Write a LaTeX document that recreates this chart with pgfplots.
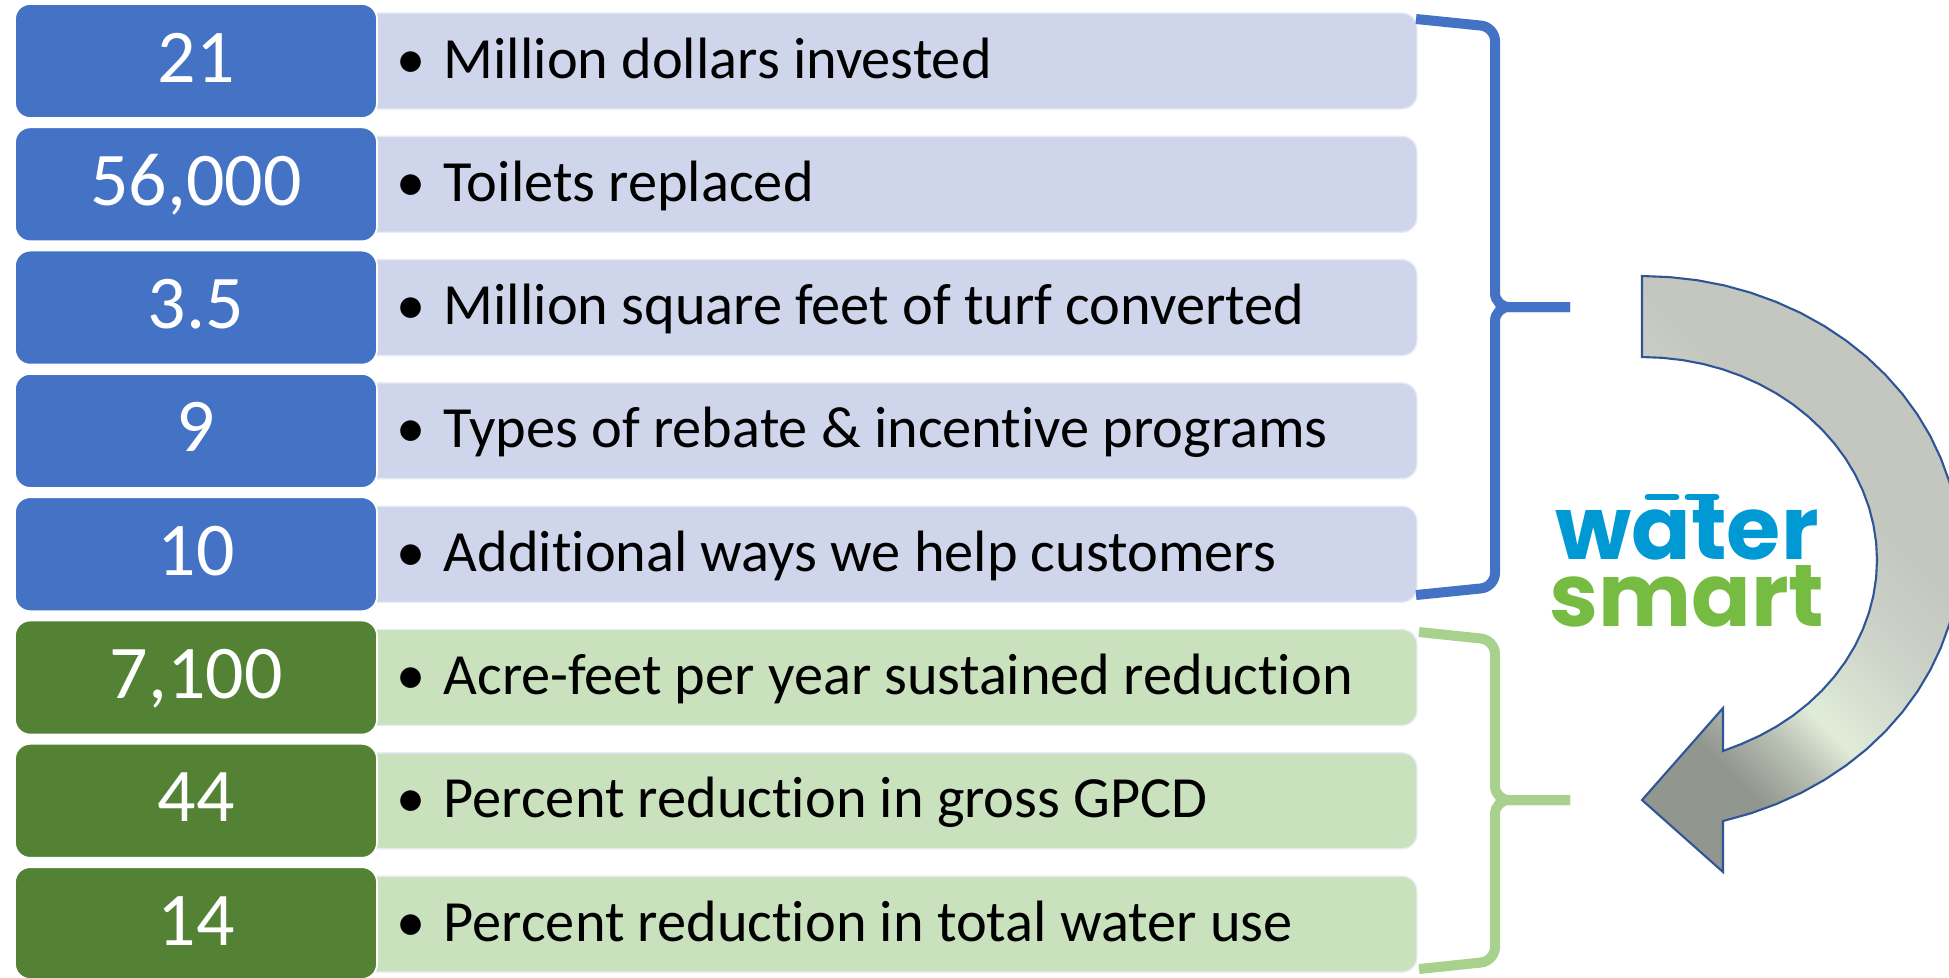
\documentclass[border=0pt]{standalone}
\usepackage{pgfplots}
\pgfplotsset{compat=1.18}
\usepackage{fontspec}
\setmainfont{Carlito}[Ligatures={NoCommon}, RawFeature={-liga;-clig;-dlig}]
\newfontfamily\logofont{Poppins}
\definecolor{dkblue}{HTML}{4472C4}
\definecolor{ltblue}{HTML}{CFD5EA}
\definecolor{dkgreen}{HTML}{548235}
\definecolor{ltgreen}{HTML}{C9E1BC}
\definecolor{brgreen}{HTML}{A9D18E}
\definecolor{arrline}{HTML}{2F5597}
\definecolor{logoblue}{HTML}{0099D4}
\definecolor{logogreen}{HTML}{76BC43}
\definecolor{adark}{HTML}{91968F}
\definecolor{amid}{HTML}{B7BEB1}
\definecolor{alight}{HTML}{E0ECD8}
\definecolor{agray}{HTML}{C4C7C0}
\definecolor{agray2}{HTML}{CDD4C9}
\pgfdeclareverticalshading{arrowshade}{100bp}{color(0bp)=(adark); color(29bp)=(adark); color(35bp)=(amid); color(40bp)=(alight); color(50bp)=(agray2); color(60bp)=(agray); color(100bp)=(agray)}
\newcommand{\bodyfont}{\fontsize{16.6}{19}\selectfont}
\newcommand{\numfont}{\fontsize{21.6}{26}\selectfont}
\begin{document}
\begin{tikzpicture}
\begin{axis}[
  scale only axis, width=19.49cm, height=9.77cm,
  xmin=0, xmax=1949, ymin=0, ymax=977, y dir=reverse,
  axis line style={draw=none}, xtick=\empty, ytick=\empty,
  clip=true,
]
% light boxes (blue group)
\addplot[draw=white!55!ltblue, line width=0.4pt, fill=ltblue, rounded corners=4.3pt] coordinates {(900,13) (1417,13) (1417,109) (360,109) (360,13)} -- cycle;
\addplot[draw=white!55!ltblue, line width=0.4pt, fill=ltblue, rounded corners=4.3pt] coordinates {(900,136.3) (1417,136.3) (1417,232.3) (360,232.3) (360,136.3)} -- cycle;
\addplot[draw=white!55!ltblue, line width=0.4pt, fill=ltblue, rounded corners=4.3pt] coordinates {(900,259.6) (1417,259.6) (1417,355.6) (360,355.6) (360,259.6)} -- cycle;
\addplot[draw=white!55!ltblue, line width=0.4pt, fill=ltblue, rounded corners=4.3pt] coordinates {(900,382.9) (1417,382.9) (1417,478.9) (360,478.9) (360,382.9)} -- cycle;
\addplot[draw=white!55!ltblue, line width=0.4pt, fill=ltblue, rounded corners=4.3pt] coordinates {(900,506.2) (1417,506.2) (1417,602.2) (360,602.2) (360,506.2)} -- cycle;
% light boxes (green group)
\addplot[draw=white!55!ltblue, line width=0.4pt, fill=ltgreen, rounded corners=4.3pt] coordinates {(900,629.5) (1417,629.5) (1417,725.5) (360,725.5) (360,629.5)} -- cycle;
\addplot[draw=white!55!ltblue, line width=0.4pt, fill=ltgreen, rounded corners=4.3pt] coordinates {(900,752.8) (1417,752.8) (1417,848.8) (360,848.8) (360,752.8)} -- cycle;
\addplot[draw=white!55!ltblue, line width=0.4pt, fill=ltgreen, rounded corners=4.3pt] coordinates {(900,876.1) (1417,876.1) (1417,972.1) (360,972.1) (360,876.1)} -- cycle;
% dark boxes
\addplot[draw=white, line width=0.5pt, fill=dkblue, rounded corners=4.3pt] coordinates {(196,4) (377,4) (377,118) (15,118) (15,4)} -- cycle;
\addplot[draw=white, line width=0.5pt, fill=dkblue, rounded corners=4.3pt] coordinates {(196,127.3) (377,127.3) (377,241.3) (15,241.3) (15,127.3)} -- cycle;
\addplot[draw=white, line width=0.5pt, fill=dkblue, rounded corners=4.3pt] coordinates {(196,250.6) (377,250.6) (377,364.6) (15,364.6) (15,250.6)} -- cycle;
\addplot[draw=white, line width=0.5pt, fill=dkblue, rounded corners=4.3pt] coordinates {(196,373.9) (377,373.9) (377,487.9) (15,487.9) (15,373.9)} -- cycle;
\addplot[draw=white, line width=0.5pt, fill=dkblue, rounded corners=4.3pt] coordinates {(196,497.2) (377,497.2) (377,611.2) (15,611.2) (15,497.2)} -- cycle;
\addplot[draw=white, line width=0.5pt, fill=dkgreen, rounded corners=4.3pt] coordinates {(196,620.5) (377,620.5) (377,734.5) (15,734.5) (15,620.5)} -- cycle;
\addplot[draw=white, line width=0.5pt, fill=dkgreen, rounded corners=4.3pt] coordinates {(196,743.8) (377,743.8) (377,857.8) (15,857.8) (15,743.8)} -- cycle;
\addplot[draw=white, line width=0.5pt, fill=dkgreen, rounded corners=4.3pt] coordinates {(196,867.1) (377,867.1) (377,979) (15,979) (15,867.1)} -- cycle;
% braces
\addplot[draw=dkblue, line width=2.85pt, rounded corners=4pt, no marks] coordinates {(1416,19) (1495,27) (1495,307) (1570,307)};
\addplot[draw=dkblue, line width=2.85pt, rounded corners=4pt, no marks] coordinates {(1570,307) (1495,307) (1495,587) (1416,595)};
\addplot[draw=brgreen, line width=2.85pt, rounded corners=4pt, no marks] coordinates {(1419,632) (1495,640) (1495,800) (1570,800)};
\addplot[draw=brgreen, line width=2.85pt, rounded corners=4pt, no marks] coordinates {(1570,800) (1495,800) (1495,961) (1419,969)};
% curved arrow
\addplot[draw=arrline, line width=0.6pt, line join=miter, shade, shading=arrowshade, shading angle=-45, no marks] coordinates {
 (1642,276) (1669.7,277.1) (1697.2,280.2) (1724.3,285.4) (1750.8,292.7) (1776.4,302.0)
 (1801,313.1) (1824.4,326.1) (1846.4,340.8) (1866.9,357.1) (1885.6,375.0) (1902.5,394.1)
 (1917.4,414.5) (1930.2,435.9) (1940.8,458.3) (1949.2,481.3) (1955.2,504.9) (1958.8,528.8)
 (1960,553) (1958.8,577.2) (1955.2,601.1) (1949.2,624.7) (1940.8,647.7) (1930.2,670.1)
 (1917.4,691.5) (1902.5,711.9) (1885.6,731.1) (1866.9,748.9) (1846.4,765.2) (1824.4,779.9)
 (1801,792.9) (1776.4,804.0) (1750.8,813.3) (1723,821)
 (1723,872) (1642,800) (1723,708) (1723,751)
 (1741.3,744.0) (1759.5,735.8) (1776.8,726.3) (1793.1,715.5) (1808.2,703.5) (1822,690.5)
 (1834.5,676.4) (1845.5,661.5) (1855.0,645.8) (1862.8,629.4) (1869.0,612.5) (1873.4,595.3)
 (1876.1,577.7) (1877,560) (1876.1,542.3) (1873.4,524.8) (1869.0,507.5) (1862.8,490.6)
 (1855.0,474.2) (1845.5,458.5) (1834.5,443.6) (1822,429.5) (1808.2,416.5) (1793.1,404.5)
 (1776.8,393.7) (1759.5,384.2) (1741.3,376.0) (1722.4,369.2) (1702.8,363.9) (1682.8,360.1)
 (1662.5,357.8) (1642,357)} -- cycle;
% faucet handles over the t of the logo
\addplot[draw=logoblue, line width=1.9pt, line cap=round, no marks] coordinates {(1648,497) (1676,497)};
\addplot[draw=logoblue, line width=1.9pt, line cap=round, no marks] coordinates {(1688,497) (1716,497)};
% numbers
\node[anchor=base, inner sep=0, text=white, font=\numfont] at (axis cs:196,82) {21};
\node[anchor=base, inner sep=0, text=white, font=\numfont] at (axis cs:196,205.3) {56,000};
\node[anchor=base, inner sep=0, text=white, font=\numfont] at (axis cs:196,328.6) {3.5};
\node[anchor=base, inner sep=0, text=white, font=\numfont] at (axis cs:196,451.9) {9};
\node[anchor=base, inner sep=0, text=white, font=\numfont] at (axis cs:196,575.2) {10};
\node[anchor=base, inner sep=0, text=white, font=\numfont] at (axis cs:196,698.5) {7,100};
\node[anchor=base, inner sep=0, text=white, font=\numfont] at (axis cs:196,821.8) {44};
\node[anchor=base, inner sep=0, text=white, font=\numfont] at (axis cs:196,945.1) {14};
% bullets
\node[anchor=base, inner sep=0, font=\bodyfont] at (axis cs:411,78) {•};
\node[anchor=base, inner sep=0, font=\bodyfont] at (axis cs:411,201.3) {•};
\node[anchor=base, inner sep=0, font=\bodyfont] at (axis cs:411,324.6) {•};
\node[anchor=base, inner sep=0, font=\bodyfont] at (axis cs:411,447.9) {•};
\node[anchor=base, inner sep=0, font=\bodyfont] at (axis cs:411,571.2) {•};
\node[anchor=base, inner sep=0, font=\bodyfont] at (axis cs:411,694.5) {•};
\node[anchor=base, inner sep=0, font=\bodyfont] at (axis cs:411,817.8) {•};
\node[anchor=base, inner sep=0, font=\bodyfont] at (axis cs:411,941.1) {•};
% body text
\node[anchor=base west, inner sep=0, font=\bodyfont] at (axis cs:443,78) {Million dollars invested};
\node[anchor=base west, inner sep=0, font=\bodyfont] at (axis cs:443,201.3) {Toilets replaced};
\node[anchor=base west, inner sep=0, font=\bodyfont] at (axis cs:443,324.6) {Million square feet of turf converted};
\node[anchor=base west, inner sep=0, font=\bodyfont] at (axis cs:443,447.9) {Types of rebate \& incentive programs};
\node[anchor=base west, inner sep=0, font=\bodyfont] at (axis cs:443,571.2) {Additional ways we help customers};
\node[anchor=base west, inner sep=0, font=\bodyfont] at (axis cs:443,694.5) {Acre-feet per year sustained reduction};
\node[anchor=base west, inner sep=0, font=\bodyfont] at (axis cs:443,817.8) {Percent reduction in gross GPCD};
\node[anchor=base west, inner sep=0, font=\bodyfont] at (axis cs:443,941.1) {Percent reduction in total water use};
% logo (one node, two lines)
\node[anchor=south, inner sep=0, align=center, font=\logofont\bfseries\fontsize{25}{19}\selectfont] at (axis cs:1687,628) {\textcolor{logoblue}{water}\\\textcolor{logogreen}{smart}};
\end{axis}
\end{tikzpicture}
\end{document}
